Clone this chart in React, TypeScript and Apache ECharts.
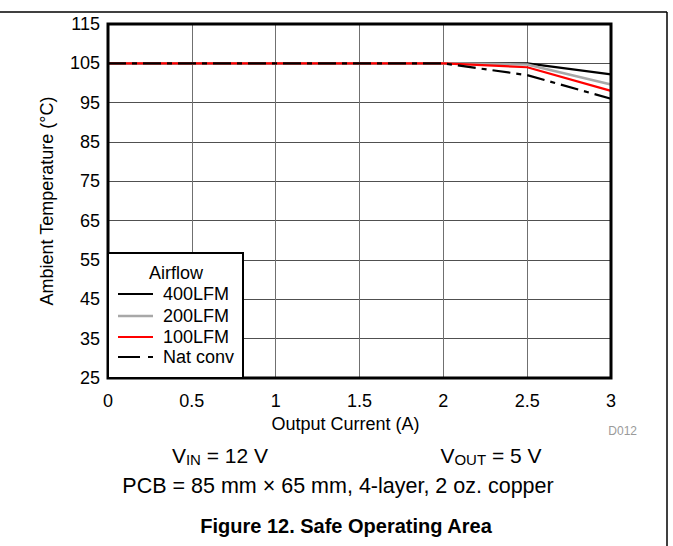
import React, { useEffect, useRef } from "react";
import * as echarts from "echarts";

const currents = [0, 2, 2.5, 3];
const seriesNames = ["400LFM", "200LFM", "100LFM", "Nat conv"];
const lfm400 = [105, 105, 105, 102.2];
const lfm200 = [105, 105, 104.7, 99.6];
const lfm100 = [105, 105, 104, 98];
const natConv = [105, 105, 102, 96];
const seriesValues = [lfm400, lfm200, lfm100, natConv];
const seriesColors = ["#000000", "#a8a8a8", "#ff0000", "#000000"];
const seriesWidths = [2.2, 2.6, 2.2, 2.2];
const seriesDash: (number[] | "solid")[] = ["solid", "solid", "solid", [18, 6, 5, 6]];

const FONT = "'Liberation Sans', Arial, sans-serif";

export default function App() {
  const ref = useRef<HTMLDivElement>(null);
  useEffect(() => {
    if (!ref.current) return;
    const chart = echarts.init(ref.current, undefined, { renderer: "svg" });
    const series = seriesNames.map((name, i) => ({
      name,
      type: "line",
      data: currents.map((c, j) => [c, seriesValues[i][j]]),
      showSymbol: false,
      symbol: "none",
      lineStyle: { color: seriesColors[i], width: seriesWidths[i], type: seriesDash[i] },
      z: 3 + i,
    }));

    const legendTop = 253;
    const rowYs = [294, 316, 337, 357];
    const legendGraphics: any[] = [
      {
        type: "rect",
        shape: { x: 108, y: legendTop, width: 135, height: 125 },
        style: { fill: "#fff", stroke: "#000", lineWidth: 2 },
        z: 50,
      },
      {
        type: "text",
        x: 176,
        y: 273,
        style: { text: "Airflow", font: `18px ${FONT}`, fill: "#000", textAlign: "center", textVerticalAlign: "middle" },
        z: 51,
      },
    ];
    seriesNames.forEach((name, i) => {
      legendGraphics.push({
        type: "line",
        shape: { x1: 118, y1: rowYs[i], x2: 153, y2: rowYs[i] },
        style: {
          stroke: seriesColors[i],
          lineWidth: seriesWidths[i],
          lineDash: Array.isArray(seriesDash[i]) ? [22, 8, 5, 8] : null,
        },
        z: 51,
      });
      legendGraphics.push({
        type: "text",
        x: 163,
        y: rowYs[i],
        style: { text: name, font: `18px ${FONT}`, fill: "#000", textAlign: "left", textVerticalAlign: "middle" },
        z: 51,
      });
    });

    const subRich = { sub: { fontSize: 15, fontFamily: FONT, verticalAlign: "bottom", padding: [9, 0, 0, 0] } };

    const option: any = {
      animation: false,
      backgroundColor: "#fff",
      grid: {
        left: 108,
        top: 24,
        right: 62,
        bottom: 168,
        show: true,
        borderColor: "#000",
        borderWidth: 3,
        backgroundColor: "transparent",
        z: 10,
      },
      xAxis: {
        type: "value",
        min: 0,
        max: 3,
        interval: 0.5,
        name: "Output Current (A)",
        nameLocation: "middle",
        nameGap: 31,
        nameTextStyle: { fontSize: 18, color: "#000", fontFamily: FONT, padding: [0, 28, 0, 0] },
        axisLine: { show: false },
        axisTick: { show: false },
        axisLabel: { fontSize: 18, color: "#000", fontFamily: FONT, margin: 14 },
        splitLine: { show: true, lineStyle: { color: "#707070", width: 1 } },
      },
      yAxis: {
        type: "value",
        min: 25,
        max: 115,
        interval: 10,
        name: "Ambient Temperature (\u00B0C)",
        nameLocation: "middle",
        nameGap: 52,
        nameTextStyle: { fontSize: 18, color: "#000", fontFamily: FONT },
        axisLine: { show: false },
        axisTick: { show: false },
        axisLabel: { fontSize: 18, color: "#000", fontFamily: FONT, margin: 8 },
        splitLine: { show: true, lineStyle: { color: "#505050", width: 1 } },
      },
      series,
      graphic: [
        {
          type: "line",
          shape: { x1: 0, y1: 12, x2: 667, y2: 12 },
          style: { stroke: "#000", lineWidth: 1.5 },
        },
        {
          type: "line",
          shape: { x1: 667, y1: 12, x2: 667, y2: 546 },
          style: { stroke: "#000", lineWidth: 1.5 },
        },
        ...legendGraphics,
        {
          type: "text",
          x: 637,
          y: 431,
          style: { text: "D012", font: `12px ${FONT}`, fill: "#9a9a9a", textAlign: "right", textVerticalAlign: "middle" },
        },
        {
          type: "text",
          x: 220,
          y: 455,
          style: {
            text: "V{sub|IN} = 12 V",
            font: `21px ${FONT}`,
            fill: "#000",
            textAlign: "center",
            textVerticalAlign: "middle",
            rich: subRich,
          },
        },
        {
          type: "text",
          x: 491,
          y: 455,
          style: {
            text: "V{sub|OUT} = 5 V",
            font: `21px ${FONT}`,
            fill: "#000",
            textAlign: "center",
            textVerticalAlign: "middle",
            rich: subRich,
          },
        },
        {
          type: "text",
          x: 338,
          y: 486,
          style: {
            text: "PCB = 85 mm \u00D7 65 mm, 4-layer, 2 oz. copper",
            font: `21.5px ${FONT}`,
            fill: "#000",
            textAlign: "center",
            textVerticalAlign: "middle",
          },
        },
        {
          type: "text",
          x: 346,
          y: 526,
          style: {
            text: "Figure 12. Safe Operating Area",
            font: `bold 20px ${FONT}`,
            fill: "#000",
            textAlign: "center",
            textVerticalAlign: "middle",
          },
        },
      ],
    };
    chart.setOption(option);
    return () => chart.dispose();
  }, []);
  return (
    <div
      ref={ref}
      style={{ position: "fixed", left: 0, top: 0, width: 673, height: 546, background: "#fff" }}
    />
  );
}
